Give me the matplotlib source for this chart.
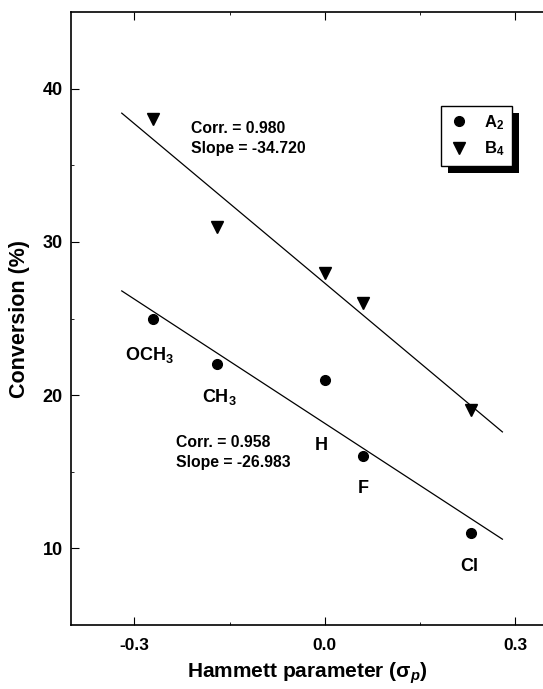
import numpy as np
import matplotlib
matplotlib.use("Agg")
import matplotlib.pyplot as plt
from matplotlib.patches import Rectangle

plt.rcParams['font.family'] = ['Liberation Sans', 'DejaVu Sans']
plt.rcParams['font.weight'] = 'bold'
plt.rcParams['mathtext.fontset'] = 'custom'
plt.rcParams['mathtext.rm'] = 'Liberation Sans:bold'
plt.rcParams['mathtext.it'] = 'Liberation Sans:italic:bold'
plt.rcParams['mathtext.bf'] = 'Liberation Sans:bold'

# Hammett sigma_p of the substituents
substituents = ['OCH$_3$', 'CH$_3$', 'H', 'F', 'Cl']
sigma_p = np.array([-0.27, -0.17, 0.0, 0.06, 0.23])

# Conversion (%) for the two catalysts
conv_a2 = np.array([25, 22, 21, 16, 11])
conv_b4 = np.array([38, 31, 28, 26, 19])

# Correlation lines as drawn in the figure
fit_x = np.array([-0.32, 0.28])
fit_a2 = np.array([26.8, 10.6])
fit_b4 = np.array([38.4, 17.6])

# Label positions for substituents (data coords)
label_x = [-0.276, -0.166, -0.006, 0.06, 0.227]
label_y = [22.6, 19.9, 16.7, 13.9, 8.8]

fig = plt.figure(figsize=(5.43, 6.89), dpi=100)
ax = fig.add_axes([71/543, 64/689, 472/543, 613/689])

ax.plot(fit_x, fit_b4, color='black', lw=0.9)
ax.plot(fit_x, fit_a2, color='black', lw=0.9)
ax.plot(sigma_p, conv_a2, 'o', color='black', ms=7, label='A$_2$')
ax.plot(sigma_p, conv_b4, 'v', color='black', ms=8, label='B$_4$')

for name, x, y in zip(substituents, label_x, label_y):
    ax.text(x, y, name, fontsize=13, fontweight='bold', ha='center', va='center')

ax.text(-0.211, 37.4, 'Corr. = 0.980', fontsize=11.3, fontweight='bold', va='center')
ax.text(-0.211, 36.1, 'Slope = -34.720', fontsize=11.3, fontweight='bold', va='center')
ax.text(-0.235, 16.9, 'Corr. = 0.958', fontsize=11.3, fontweight='bold', va='center')
ax.text(-0.235, 15.6, 'Slope = -26.983', fontsize=11.3, fontweight='bold', va='center')

ax.set_xlim(-0.4, 0.344)
ax.set_ylim(5, 45)
ax.set_xticks([-0.3, 0.0, 0.3])
ax.set_xticklabels(['-0.3', '0.0', '0.3'])
ax.set_xticks([-0.15, 0.15], minor=True)
ax.set_yticks([10, 20, 30, 40])
ax.set_yticks([15, 25, 35], minor=True)
ax.tick_params(axis='x', which='major', direction='in', length=6, pad=9, top=True, labelsize=12.5)
ax.tick_params(axis='y', which='major', direction='in', length=6, pad=6, labelsize=13)
ax.tick_params(which='minor', direction='in', length=2, top=True)
ax.spines['right'].set_visible(False)
for s in ['left', 'bottom', 'top']:
    ax.spines[s].set_linewidth(1.2)

ax.set_xlabel('Hammett parameter (σ$_p$)', fontsize=15, fontweight='bold', labelpad=6)
ax.set_ylabel('Conversion (%)', fontsize=15.5, fontweight='bold', labelpad=9)

leg = ax.legend(loc='upper right', bbox_to_anchor=(0.934, 0.847), borderaxespad=0,
                fancybox=False, edgecolor='black', framealpha=1, fontsize=12,
                handletextpad=0.9, borderpad=0.45, labelspacing=0.45, handlelength=1.2)
leg.get_frame().set_linewidth(1.0)
leg.set_zorder(6)

# black drop shadow behind the legend box
fig.canvas.draw()
bb = leg.get_window_extent()
shadow = Rectangle((bb.x0 + 7, bb.y0 - 7), bb.width, bb.height, transform=None,
                   facecolor='black', edgecolor='none', zorder=5, clip_on=False)
ax.add_artist(shadow)

fig.savefig('out.png', dpi=100)
